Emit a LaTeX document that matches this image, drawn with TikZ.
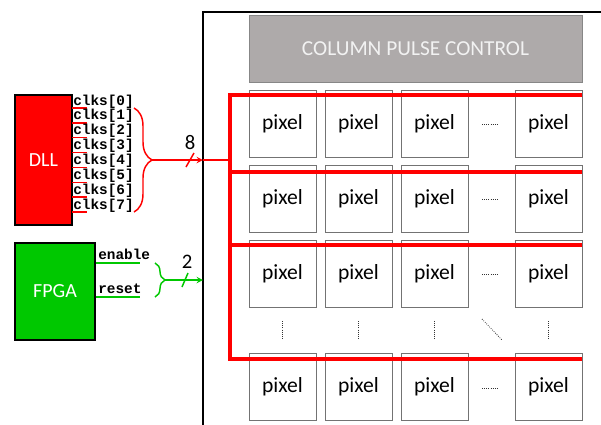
\documentclass[tikz,border=0pt]{standalone}
\usepackage{xcolor}
\usepackage{fontspec}
\setmainfont{Carlito}
\newfontfamily\pinfont{Liberation Mono}
\usepackage{tikz}
\usetikzlibrary{arrows, decorations.pathreplacing}
\definecolor{dllred}{RGB}{255,0,0}
\definecolor{fpgagreen}{RGB}{0,200,0}
\definecolor{ctrlgray}{RGB}{174,170,170}
\definecolor{ctrledge}{RGB}{135,135,135}
\definecolor{pixedge}{RGB}{115,115,115}
\tikzstyle{block} = [rectangle, draw=black, line width=1.5pt, text=white, inner sep=0pt, font=\fontsize{15}{18}\selectfont]
\tikzstyle{control} = [rectangle, draw=ctrledge, fill=ctrlgray, text=white!95!black, minimum width=249.75pt, minimum height=50.25pt, font=\fontsize{16}{18}\selectfont]
\tikzstyle{pixel} = [rectangle, draw=pixedge, fill=white, minimum width=50.25pt, minimum height=50.25pt, font=\fontsize{16.2}{18}\selectfont]
\tikzstyle{pinlabel} = [inner sep=0pt, anchor=base west, font=\pinfont\bfseries\fontsize{10.8}{12}\selectfont]
\tikzstyle{width} = [inner sep=0pt, font=\fontsize{15.5}{18}\selectfont]
\tikzstyle{wire} = [line width=1.1pt]
\tikzstyle{bus} = [line width=3pt, dllred]
\tikzstyle{more} = [line width=0.6pt, densely dotted, black!80]

\begin{document}
\begin{tikzpicture}[x=0.75pt, y=-0.75pt]
	\useasboundingbox (0,0) rectangle (601,425);

	% chip outline
	\draw [line width=1.1pt] (203,425) |- (601,12);

	% driving blocks
	\node (dll) [block, fill=dllred, minimum width=42.75pt, minimum height=97.5pt] at (43.5,160) {DLL};
	\node (fpga) [block, fill=fpgagreen, minimum width=60pt, minimum height=72.75pt] at (55,291.5) {FPGA};
	\node (ctrl) [control] at (415.5,48.5) {COLUMN PULSE CONTROL};

	% pixel array
	\foreach \r/\y in {1/123.5, 2/198.5, 3/273.5, 5/387} {
		\foreach \c/\x in {1/282.5, 2/358.5, 3/434.5, 5/548.5}
			\node (p\r\c) [pixel] at (\x,\y) {pixel};
		\draw [more] (482,\y+1) -- (499,\y+1);
	}
	\foreach \x in {282.5, 358.5, 434.5, 548.5}
		\draw [more] (\x,321) -- (\x,340);
	\draw [more] (482,319) -- (502,340);

	% clock taps
	\foreach \i [evaluate=\i as \y using 108+14.86*\i] in {0,...,7} {
		\draw [wire, dllred] (72,\y) -- (87,\y);
		\node (clk\i) [pinlabel] at (73,\y-3) {clks[\i]};
	}
	\draw [wire, dllred, decorate, decoration={brace, amplitude=13.5pt}] (134,108) -- (134,212);
	\coordinate (clkbr) at (152,160);
	\coordinate (clkin) at (203,160);

	% control lines
	\node (en) [pinlabel] at (98,259) {enable};
	\node (rst) [pinlabel] at (98,293) {reset};
	\draw [wire, fpgagreen] (fpga.east |- 0,263) -- (140,263);
	\draw [wire, fpgagreen] (fpga.east |- 0,297) -- (140,297);
	\draw [wire, fpgagreen, decorate, decoration={brace, amplitude=7.5pt}] (155,263) -- (155,297);
	\coordinate (ctlbr) at (165,280);
	\coordinate (ctlin) at (203,280);

	% clock bus into the array
	\coordinate (b1) at (230,95);
	\coordinate (b2) at (230,172);
	\coordinate (b3) at (230,245);
	\coordinate (b4) at (230,359);
	\draw [wire, dllred, ->, >=stealth] (clkbr) -- (clkin);
	\draw [wire, dllred] (clkin) -- (clkin -| b1);
	\draw [bus] (b1 -| p15.east) -- (b1) -- (b4) -- (b4 -| p55.east);
	\draw [bus] (b2) -- (b2 -| p25.east);
	\draw [bus] (b3) -- (b3 -| p35.east);
	\draw [wire, dllred] (186,167) -- (194,153);
	\node (n8) [width] at (190,143) {8};

	\draw [wire, fpgagreen, ->, >=stealth] (ctlbr) -- (ctlin);
	\draw [wire, fpgagreen] (182,287) -- (188,273);
	\node (n2) [width] at (187,262) {2};
\end{tikzpicture}
\end{document}
